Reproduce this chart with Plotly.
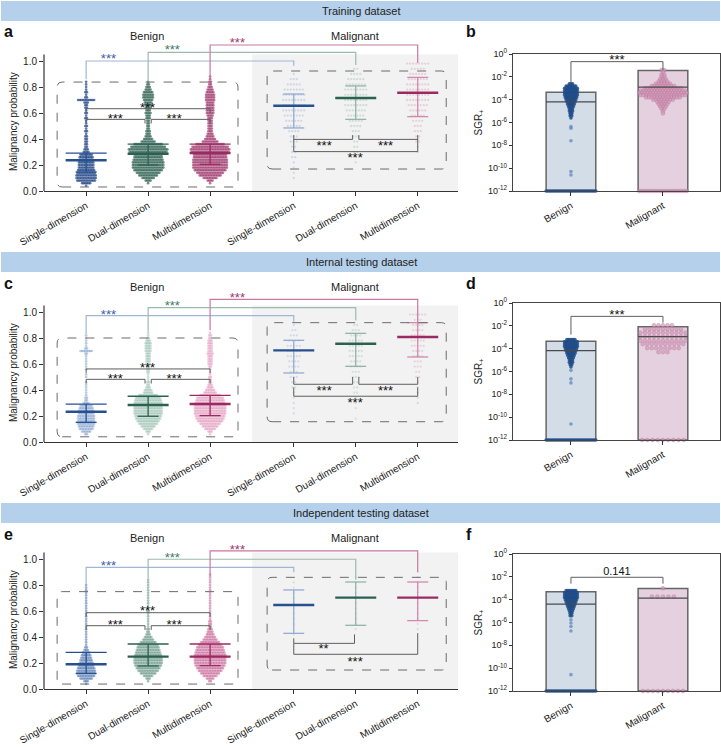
import plotly.graph_objects as go

# ===================== DATA =====================
ROW_TITLES = ["Training dataset", "Internal testing dataset", "Independent testing dataset"]
LEFT_LETTERS = ["a", "c", "e"]
RIGHT_LETTERS = ["b", "d", "f"]
GROUP_LABELS = ["Single-dimension", "Dual-dimension", "Multidimension"]
CLASS_LABELS = ["Benign", "Malignant"]
PROB_TICKS = [0.0, 0.2, 0.4, 0.6, 0.8, 1.0]
SGR_TICK_EXP = [0, -2, -4, -6, -8, -10, -12]

# probability rows of the benign swarms (value, number of dots in the row)
BINS_B = [0.04, 0.06, 0.08, 0.10, 0.12, 0.14, 0.16, 0.18, 0.20, 0.22,
          0.24, 0.26, 0.28, 0.30, 0.32, 0.34, 0.36, 0.38, 0.40, 0.42,
          0.44, 0.46, 0.48, 0.50, 0.52, 0.54, 0.56, 0.58, 0.60, 0.62,
          0.64, 0.66, 0.68, 0.70, 0.72, 0.74, 0.76, 0.78, 0.80, 0.82,
          0.84, 0.86, 0.88, 0.90]

A_BEN_SINGLE = [1, 6, 12, 13, 13, 12, 11, 10, 10, 10,
                9, 9, 8, 4, 3, 2, 2, 2, 2, 2,
                1, 2, 1, 2, 1, 1, 2, 1, 2, 1,
                2, 2, 3, 11, 2, 1, 2, 1, 1, 1,
                1, 0, 0, 0]
A_BEN_DUAL = [0, 1, 4, 8, 12, 15, 18, 20, 20, 20,
              19, 18, 18, 24, 25, 22, 18, 9, 6, 4,
              3, 3, 2, 2, 2, 2, 3, 3, 4, 3,
              4, 4, 5, 6, 7, 7, 6, 4, 3, 2,
              1, 0, 0, 0]
A_BEN_MULTI = [0, 1, 4, 9, 14, 17, 20, 22, 22, 22,
               22, 21, 21, 24, 25, 23, 18, 10, 7, 5,
               4, 3, 3, 3, 3, 3, 3, 4, 5, 5,
               5, 5, 5, 6, 6, 6, 5, 4, 3, 2,
               2, 1, 1, 0]
C_BEN_SINGLE = [0, 2, 6, 9, 10, 11, 11, 11, 11, 10,
                10, 9, 8, 4, 2, 2, 1, 1, 1, 1,
                1, 1, 0, 1, 1, 0, 1, 1, 1, 1,
                1, 1, 2, 8, 2, 1, 1, 1, 1, 1,
                0, 0, 0, 0]
C_BEN_DUAL = [0, 1, 3, 6, 9, 12, 14, 16, 17, 18,
              18, 18, 18, 18, 17, 16, 12, 6, 5, 3,
              2, 2, 1, 1, 1, 2, 2, 2, 3, 3,
              3, 3, 3, 4, 4, 4, 4, 3, 2, 1,
              1, 0, 0, 0]
C_BEN_MULTI = [0, 1, 3, 7, 10, 13, 16, 18, 19, 20,
               20, 20, 20, 19, 18, 17, 13, 8, 6, 4,
               3, 2, 2, 2, 1, 1, 1, 2, 3, 3,
               3, 3, 4, 3, 3, 3, 3, 3, 2, 2,
               1, 0, 0, 0]
E_BEN_SINGLE = [1, 3, 8, 11, 12, 12, 11, 10, 9, 8,
                7, 6, 5, 3, 2, 1, 1, 1, 1, 1,
                1, 1, 1, 1, 1, 1, 1, 1, 1, 1,
                1, 1, 1, 1, 1, 1, 1, 1, 1, 0,
                0, 0, 0, 0]
E_BEN_DUAL = [0, 1, 3, 6, 10, 13, 15, 17, 18, 18,
              18, 17, 16, 15, 14, 13, 10, 7, 5, 3,
              2, 2, 1, 1, 1, 1, 1, 1, 2, 1,
              1, 1, 1, 1, 1, 1, 1, 1, 1, 1,
              1, 0, 0, 0]
E_BEN_MULTI = [0, 2, 5, 9, 12, 15, 17, 19, 20, 20,
               20, 20, 19, 18, 17, 15, 12, 9, 7, 5,
               4, 3, 2, 2, 2, 1, 1, 1, 1, 1,
               1, 1, 1, 1, 1, 1, 1, 1, 1, 1,
               1, 1, 1, 0]

BINS_M = [0.10, 0.14, 0.18, 0.22, 0.26, 0.30, 0.34, 0.38, 0.42, 0.46, 0.50, 0.54,
          0.58, 0.62, 0.66, 0.70, 0.74, 0.78, 0.82, 0.86, 0.90, 0.94, 0.98]
A_MAL_SINGLE = [1, 1, 1, 1, 2, 2, 2, 3, 3, 4, 5, 6, 7, 8, 8, 8, 8, 7, 5, 3, 1, 0, 0]
A_MAL_DUAL = [0, 0, 0, 1, 1, 2, 2, 2, 3, 3, 4, 5, 6, 7, 8, 8, 8, 8, 7, 6, 4, 2, 0]
A_MAL_MULTI = [0, 0, 0, 0, 0, 1, 1, 2, 2, 3, 3, 4, 5, 6, 7, 8, 8, 8, 8, 7, 6, 5, 8]
C_MAL_SINGLE = [0, 0, 0, 1, 1, 1, 1, 1, 2, 2, 3, 3, 4, 4, 5, 5, 5, 4, 3, 2, 1, 0, 0]
C_MAL_DUAL = [0, 0, 1, 0, 1, 1, 1, 2, 2, 2, 3, 3, 4, 4, 5, 5, 5, 5, 4, 3, 2, 1, 0]
C_MAL_MULTI = [0, 0, 0, 0, 0, 1, 1, 1, 1, 1, 2, 2, 3, 3, 4, 4, 5, 5, 5, 4, 4, 3, 6]
E_MAL_SINGLE = [0, 0, 0, 0, 0, 0, 0, 0, 1, 0, 1, 1, 1, 1, 1, 1, 1, 1, 1, 0, 0, 0, 0]
E_MAL_DUAL = [0, 0, 0, 0, 0, 0, 0, 0, 0, 1, 1, 1, 1, 1, 1, 1, 1, 1, 1, 1, 0, 0, 0]
E_MAL_MULTI = [0, 0, 0, 0, 0, 0, 0, 0, 0, 1, 1, 1, 1, 1, 1, 1, 1, 1, 1, 1, 1, 0, 0]

# medians and error-bar ends  [single, dual, multi]
A_BEN_MED, A_BEN_UP, A_BEN_LO = [0.236, 0.287, 0.292], [0.292, 0.360, 0.360], [0.146, 0.200, 0.205]
A_MAL_MED, A_MAL_UP, A_MAL_LO = [0.656, 0.715, 0.756], [0.746, 0.808, 0.874], [0.485, 0.551, 0.572]
C_BEN_MED, C_BEN_UP, C_BEN_LO = [0.233, 0.285, 0.292], [0.292, 0.352, 0.359], [0.151, 0.198, 0.203]
C_MAL_MED, C_MAL_UP, C_MAL_LO = [0.705, 0.756, 0.808], [0.782, 0.836, 0.918], [0.531, 0.582, 0.654]
E_BEN_MED, E_BEN_UP, E_BEN_LO = [0.190, 0.249, 0.249], [0.282, 0.346, 0.346], [0.120, 0.177, 0.180]
E_MAL_MED, E_MAL_UP, E_MAL_LO = [0.646, 0.703, 0.703], [0.762, 0.823, 0.823], [0.428, 0.490, 0.526]

# SGR+ panels (log10 values of the dots)
B_BEN_LOG = [-2.6, -2.8, -3.0, -3.2, -3.4, -3.6, -3.8, -4.0, -4.2, -4.4, -4.6, -4.8, -5.0, -5.2, -5.4, -5.6]
B_BEN_N = [3, 7, 9, 9, 9, 9, 8, 7, 6, 5, 4, 3, 3, 2, 2, 1]
B_BEN_OUT = [-6.35, -6.5, -7.6, -10.3, -10.6]
B_MAL_LOG = [-1.4, -1.6, -1.8, -2.0, -2.2, -2.4, -2.6, -2.8, -3.0, -3.2, -3.4, -3.6, -3.8, -4.0,
             -4.2, -4.4, -4.6, -4.8, -5.0, -5.2]
B_MAL_N = [2, 1, 2, 2, 3, 4, 6, 9, 14, 17, 18, 17, 13, 8, 5, 4, 3, 2, 1, 1]
D_BEN_LOG = [-3.2, -3.4, -3.6, -3.8, -4.0, -4.2, -4.4, -4.6, -4.8, -5.0, -5.2, -5.4, -5.6]
D_BEN_N = [6, 9, 9, 9, 8, 7, 6, 5, 4, 3, 3, 2, 1]
D_BEN_OUT = [-5.9, -6.65, -7.0, -10.6]
D_MAL_LOG = [-1.95, -2.3, -2.6, -2.95, -3.3, -3.6, -3.95, -4.3]
D_MAL_N = [5, 9, 11, 11, 11, 10, 8, 3]
F_BEN_LOG = [-3.2, -3.4, -3.6, -3.8, -4.0, -4.2, -4.4, -4.6, -4.8, -5.0, -5.2, -5.4]
F_BEN_N = [7, 9, 9, 9, 8, 7, 6, 5, 4, 3, 2, 2]
F_BEN_OUT = [-5.76, -6.05, -6.35, -6.75, -10.57]
F_MAL_LOG = [-3.0, -3.73]
F_MAL_N = [1, 5]
FLOOR_LOG = -12
BEN_FLOOR_N = [32, 32, 32]
MAL_FLOOR_N = [18, 9, 9]

SGR_TOP = [[4.5e-4, 3.5e-2], [4.5e-4, 8.5e-3], [5.0e-4, 9.3e-4]]
SGR_MEDIAN = [[6.3e-5, 1.26e-3], [6.8e-5, 1.15e-3], [4.0e-5, 1.35e-4]]
SGR_P = ["***", "***", "0.141"]

# ===================== STYLE / LAYOUT =====================
W, H = 721, 747
FONT = "Liberation Sans, Arial, Helvetica, sans-serif"
GROUP_POS = [0, 1, 2, 3.35, 4.35, 5.35]
LEFT_X_PX = (44, 458)
LEFT_XR = [-0.68, 6.0]
PXU_L = (LEFT_X_PX[1] - LEFT_X_PX[0]) / (LEFT_XR[1] - LEFT_XR[0])
ZERO_PX = [191, 442, 689]
PXP = 130.0
YMAX_L = 1.2
AX_TOP = 1.05
RIGHT_X_PX = (513, 720)
RIGHT_XR = [-0.63, 1.62]
PXU_R = (RIGHT_X_PX[1] - RIGHT_X_PX[0]) / (RIGHT_XR[1] - RIGHT_XR[0])
RIGHT_Y_PX = [(54, 191), (303, 440), (554, 691)]
BAND_PX = [(1, 21), (252, 272), (503, 523)]

DARK = ["#27508f", "#2b6150", "#9c2a62"]
LIGHT = ["#93abd0", "#93b4a7", "#d08aad"]
BEN_DOT = [["#1f4585", "#2f6151", "#a03a6e"],
           ["#6a8fc6", "#86b3a2", "#dc86b0"],
           ["#4670ad", "#5c907e", "#c45d92"]]
BEN_OP = [0.7, 0.45, 0.55]
MAL_DOT = ["#a4b8d6", "#a4c2b6", "#d8a6bf"]
MAL_OP = [0.45, 0.4, 0.35]
BR_LINE = ["#a0b6d6", "#9dbaae", "#c8789f"]
BR_STAR = ["#3d62a0", "#3f7a66", "#a23767"]
GREY = "#5e5e5e"

COLORED_BR = [
    [(0, 3.35, 1.000, 0.86, 0.964, 0.36, 1.033), (1, 4.35, 1.067, 0.84, 0.97, 1.39, 1.10),
     (2, 5.35, 1.123, 0.88, 0.985, 2.44, 1.155)],
    [(0, 3.35, 0.972, 0.83, 0.925, 0.36, 0.998), (1, 4.35, 1.033, 0.85, 0.94, 1.39, 1.06),
     (2, 5.35, 1.097, 0.86, 0.92, 2.44, 1.125)],
    [(0, 3.35, 0.936, 0.80, 0.898, 0.36, 0.967), (1, 4.35, 0.998, 0.85, 0.84, 1.39, 1.028),
     (2, 5.35, 1.062, 0.87, 0.90, 2.44, 1.09)],
]
BEN_BR = [
    [(0, 0.95, 0.551, 0.52, 0.52, "***", 0.47, 0.575), (1.05, 2, 0.551, 0.52, 0.52, "***", 1.42, 0.575),
     (0, 2, 0.633, 0.60, 0.60, "***", 0.99, 0.657)],
    [(0, 0.95, 0.482, 0.45, 0.45, "***", 0.47, 0.503), (1.05, 2, 0.482, 0.45, 0.45, "***", 1.42, 0.503),
     (0, 2, 0.562, 0.53, 0.53, "***", 0.99, 0.585)],
    [(0, 0.95, 0.487, 0.455, 0.455, "***", 0.47, 0.513), (1.05, 2, 0.487, 0.455, 0.455, "***", 1.42, 0.513),
     (0, 2, 0.587, 0.555, 0.555, "***", 0.99, 0.615)],
]
MAL_BR = [
    [(3.35, 4.30, 0.397, 0.43, 0.43, "***", 3.84, 0.367), (4.40, 5.35, 0.397, 0.43, 0.43, "***", 4.83, 0.367),
     (3.35, 5.35, 0.303, 0.40, 0.40, "***", 4.34, 0.272)],
    [(3.35, 4.30, 0.444, 0.50, 0.50, "***", 3.84, 0.413), (4.40, 5.35, 0.444, 0.50, 0.50, "***", 4.83, 0.413),
     (3.35, 5.35, 0.352, 0.42, 0.42, "***", 4.34, 0.318)],
    [(3.35, 4.33, 0.351, 0.39, 0.42, "**", 3.83, 0.326),
     (3.35, 5.35, 0.267, 0.351, 0.43, "***", 4.34, 0.228)],
]
RIGHT_BR = [(-0.67, -2.56, -1.40, -0.35), (-1.17, -2.77, -1.72, -0.85), (-2.04, -2.60, -2.60, -1.60)]
BEN_BOX = [(-0.468, 2.45, 0.031, 0.838), (-0.468, 2.45, 0.040, 0.800), (-0.468, 2.45, 0.038, 0.749)]
MAL_BOX = [(2.92, 5.81, 0.169, 0.923), (2.92, 5.81, 0.156, 0.918), (2.92, 5.81, 0.146, 0.859)]
GREY_X0 = 2.68

ROWS = [
    dict(ben=[A_BEN_SINGLE, A_BEN_DUAL, A_BEN_MULTI], mal=[A_MAL_SINGLE, A_MAL_DUAL, A_MAL_MULTI],
         bmed=A_BEN_MED, bup=A_BEN_UP, blo=A_BEN_LO, mmed=A_MAL_MED, mup=A_MAL_UP, mlo=A_MAL_LO,
         sb=(B_BEN_LOG, B_BEN_N, B_BEN_OUT), sm=(B_MAL_LOG, B_MAL_N), msp=2.8, mfsp=2.8),
    dict(ben=[C_BEN_SINGLE, C_BEN_DUAL, C_BEN_MULTI], mal=[C_MAL_SINGLE, C_MAL_DUAL, C_MAL_MULTI],
         bmed=C_BEN_MED, bup=C_BEN_UP, blo=C_BEN_LO, mmed=C_MAL_MED, mup=C_MAL_UP, mlo=C_MAL_LO,
         sb=(D_BEN_LOG, D_BEN_N, D_BEN_OUT), sm=(D_MAL_LOG, D_MAL_N), msp=4.5, mfsp=5.2),
    dict(ben=[E_BEN_SINGLE, E_BEN_DUAL, E_BEN_MULTI], mal=[E_MAL_SINGLE, E_MAL_DUAL, E_MAL_MULTI],
         bmed=E_BEN_MED, bup=E_BEN_UP, blo=E_BEN_LO, mmed=E_MAL_MED, mup=E_MAL_UP, mlo=E_MAL_LO,
         sb=(F_BEN_LOG, F_BEN_N, F_BEN_OUT), sm=(F_MAL_LOG, F_MAL_N), msp=5.5, mfsp=5.0),
]


def nm(letter, n):
    return letter if n == 1 else f"{letter}{n}"


def swarm(center, values, counts, spacing):
    xs, ys = [], []
    for v, n in zip(values, counts):
        for i in range(n):
            xs.append(center + (i - (n - 1) / 2.0) * spacing)
            ys.append(v)
    return xs, ys


def segs_trace(xa, ya, segs, color, width):
    xs, ys = [], []
    for s in segs:
        for (px, py) in s:
            xs.append(px)
            ys.append(py)
        xs.append(None)
        ys.append(None)
    return go.Scatter(x=xs, y=ys, mode="lines", line=dict(color=color, width=width),
                      xaxis=xa, yaxis=ya, hoverinfo="skip", showlegend=False)


def text_trace(xa, ya, xs, ys, texts, color, size):
    return go.Scatter(x=xs, y=ys, mode="text", text=texts, textposition="middle center",
                      textfont=dict(color=color, size=size, family=FONT), cliponaxis=False,
                      xaxis=xa, yaxis=ya, hoverinfo="skip", showlegend=False)


def note(x_px, y_px, text, size, color="#222", angle=0, xanchor="center"):
    return dict(xref="paper", yref="paper", x=x_px / W, y=1 - y_px / H, text=text, showarrow=False,
                xanchor=xanchor, yanchor="middle", textangle=angle,
                font=dict(size=size, color=color, family=FONT))


fig = go.Figure()
shapes, annotations, lay = [], [], {}
STAR_DY_L = -3.0 / PXP
TICKFONT = dict(size=10, color="#222", family=FONT)

for r in range(3):
    nl, nr = 2 * r + 1, 2 * r + 2
    xl, yl, xr, yr = nm("x", nl), nm("y", nl), nm("x", nr), nm("y", nr)
    R = ROWS[r]
    z = ZERO_PX[r]

    # ---- axes ----
    lay["xaxis" if nl == 1 else f"xaxis{nl}"] = dict(
        domain=[LEFT_X_PX[0] / W, LEFT_X_PX[1] / W], range=LEFT_XR, anchor=yl, automargin=False,
        tickvals=GROUP_POS, ticktext=GROUP_LABELS + GROUP_LABELS, tickangle=-30,
        ticks="outside", ticklen=4, tickcolor="#333", showline=True, linecolor="#333", linewidth=1.2,
        showgrid=False, zeroline=False, tickfont=TICKFONT, fixedrange=True)
    lay["yaxis" if nl == 1 else f"yaxis{nl}"] = dict(
        domain=[1 - z / H, 1 - (z - YMAX_L * PXP) / H], range=[0, YMAX_L], anchor=xl, automargin=False,
        tickvals=PROB_TICKS, ticktext=[f"{v:.1f}" for v in PROB_TICKS], ticks="outside", ticklen=4,
        tickcolor="#333", showline=False, showgrid=False, zeroline=False, tickfont=TICKFONT, fixedrange=True)
    ry0, ry1 = RIGHT_Y_PX[r]
    lay[f"xaxis{nr}"] = dict(
        domain=[RIGHT_X_PX[0] / W, RIGHT_X_PX[1] / W], range=RIGHT_XR, anchor=yr, automargin=False,
        tickvals=[0, 1], ticktext=CLASS_LABELS, tickangle=-30, ticks="outside", ticklen=4,
        tickcolor="#333", showline=True, mirror=True, linecolor="#444", linewidth=1.2,
        showgrid=False, zeroline=False, tickfont=TICKFONT, fixedrange=True)
    lay[f"yaxis{nr}"] = dict(
        domain=[1 - ry1 / H, 1 - ry0 / H], type="log", range=[-12, 0], anchor=xr, automargin=False,
        tickvals=[10.0 ** e for e in SGR_TICK_EXP],
        ticktext=[f"10<sup>{e}</sup>" for e in SGR_TICK_EXP], ticks="outside", ticklen=3,
        tickcolor="#333", showline=True, mirror=True, linecolor="#444", linewidth=1.2,
        showgrid=False, zeroline=False, tickfont=dict(size=9, color="#222", family=FONT), fixedrange=True)

    # ---- background / boxes ----
    shapes.append(dict(type="rect", xref=xl, yref=yl, x0=GREY_X0, x1=LEFT_XR[1], y0=0, y1=AX_TOP,
                       fillcolor="#f2f2f2", line=dict(width=0), layer="below"))
    shapes.append(dict(type="line", xref=f"{xl} domain", yref=yl, x0=0, x1=0, y0=0, y1=AX_TOP,
                       line=dict(color="#333", width=1.2)))
    for (bx0, bx1, by0, by1) in (BEN_BOX[r], MAL_BOX[r]):
        rx, ryy = 5 / PXU_L, 5 / PXP
        path = (f"M {bx0 + rx},{by0} L {bx1 - rx},{by0} Q {bx1},{by0} {bx1},{by0 + ryy} "
                f"L {bx1},{by1 - ryy} Q {bx1},{by1} {bx1 - rx},{by1} L {bx0 + rx},{by1} "
                f"Q {bx0},{by1} {bx0},{by1 - ryy} L {bx0},{by0 + ryy} Q {bx0},{by0} {bx0 + rx},{by0} Z")
        shapes.append(dict(type="path", xref=xl, yref=yl, path=path,
                           line=dict(color="#6b6b6b", width=1, dash="dash"), layer="above"))

    # ---- swarms ----
    for g in range(3):
        xs, ys = swarm(GROUP_POS[g], BINS_B, R["ben"][g], 1.6 / PXU_L)
        fig.add_trace(go.Scatter(x=xs, y=ys, mode="markers", xaxis=xl, yaxis=yl, cliponaxis=False,
                                 marker=dict(size=2.7, color=BEN_DOT[r][g], opacity=BEN_OP[r], line=dict(width=0)),
                                 hoverinfo="skip", showlegend=False))
        xs, ys = swarm(GROUP_POS[g + 3], BINS_M, R["mal"][g], 3.0 / PXU_L)
        fig.add_trace(go.Scatter(x=xs, y=ys, mode="markers", xaxis=xl, yaxis=yl, cliponaxis=False,
                                 marker=dict(size=2.3, color=MAL_DOT[g], opacity=MAL_OP[r], line=dict(width=0)),
                                 hoverinfo="skip", showlegend=False))

    # ---- medians and error bars ----
    wm, wc = 20.5 / PXU_L, 10.5 / PXU_L
    for g in range(3):
        c = GROUP_POS[g]
        fig.add_trace(segs_trace(xl, yl, [[(c, R["blo"][g]), (c, R["bup"][g])],
                                          [(c - wc, R["blo"][g]), (c + wc, R["blo"][g])],
                                          [(c - wm, R["bup"][g]), (c + wm, R["bup"][g])]], DARK[g], 1.3))
        fig.add_trace(segs_trace(xl, yl, [[(c - wm, R["bmed"][g]), (c + wm, R["bmed"][g])]], DARK[g], 2.4))
        c = GROUP_POS[g + 3]
        fig.add_trace(segs_trace(xl, yl, [[(c, R["mlo"][g]), (c, R["mup"][g])],
                                          [(c - wc, R["mlo"][g]), (c + wc, R["mlo"][g])],
                                          [(c - wc, R["mup"][g]), (c + wc, R["mup"][g])]], LIGHT[g], 1.3))
        fig.add_trace(segs_trace(xl, yl, [[(c - wm, R["mmed"][g]), (c + wm, R["mmed"][g])]], DARK[g], 2.4))

    # ---- brackets ----
    for g, (x0, x1, yy, l0, l1, sx, sy) in enumerate(COLORED_BR[r]):
        fig.add_trace(segs_trace(xl, yl, [[(x0, l0), (x0, yy), (x1, yy), (x1, l1)]], BR_LINE[g], 1.2))
        fig.add_trace(text_trace(xl, yl, [sx], [sy + STAR_DY_L], ["***"], BR_STAR[g], 13))
    for (x0, x1, yy, l0, l1, t, sx, sy) in BEN_BR[r] + MAL_BR[r]:
        fig.add_trace(segs_trace(xl, yl, [[(x0, l0), (x0, yy), (x1, yy), (x1, l1)]], GREY, 1.0))
        fig.add_trace(text_trace(xl, yl, [sx], [sy + STAR_DY_L], [t], "#111", 13))

    # ---- SGR panel ----
    fig.add_trace(go.Bar(x=[0, 1], y=SGR_TOP[r], base=10.0 ** FLOOR_LOG, width=0.54, xaxis=xr, yaxis=yr,
                         marker=dict(color=["#d3dde8", "#e4d0de"], line=dict(color="#666", width=1.5)),
                         hoverinfo="skip", showlegend=False))
    blog, bn, bout = R["sb"]
    xs, ys = swarm(0, blog, bn, 1.6 / PXU_R)
    fxs, fys = swarm(0, [FLOOR_LOG], [BEN_FLOOR_N[r]], 1.6 / PXU_R)
    fig.add_trace(go.Scatter(x=xs + fxs, y=[10.0 ** v for v in ys + fys], mode="markers", xaxis=xr, yaxis=yr,
                             cliponaxis=False, marker=dict(size=3.6, color="#1f4b87", opacity=0.85, line=dict(width=0)),
                             hoverinfo="skip", showlegend=False))
    fig.add_trace(go.Scatter(x=[0] * len(bout), y=[10.0 ** v for v in bout], mode="markers", xaxis=xr, yaxis=yr,
                             cliponaxis=False, marker=dict(size=3.6, color="#5f86bb", opacity=0.75, line=dict(width=0)),
                             hoverinfo="skip", showlegend=False))
    mlog, mn = R["sm"]
    xs, ys = swarm(1, mlog, mn, R["msp"] / PXU_R)
    fxs, fys = swarm(1, [FLOOR_LOG], [MAL_FLOOR_N[r]], R["mfsp"] / PXU_R)
    fig.add_trace(go.Scatter(x=xs + fxs, y=[10.0 ** v for v in ys + fys], mode="markers", xaxis=xr, yaxis=yr,
                             cliponaxis=False,
                             marker=dict(size=3.8, color="#d09ab8", opacity=0.7, line=dict(color="#b86b95", width=0.5)),
                             hoverinfo="skip", showlegend=False))
    hw = 0.27
    fig.add_trace(segs_trace(xr, yr, [[(k - hw, SGR_MEDIAN[r][k]), (k + hw, SGR_MEDIAN[r][k])] for k in range(2)],
                             "#4a4a4a", 1.2))
    top_e, l0e, l1e, te = RIGHT_BR[r]
    fig.add_trace(segs_trace(xr, yr, [[(0, 10 ** l0e), (0, 10 ** top_e), (1, 10 ** top_e), (1, 10 ** l1e)]],
                             GREY, 1.0))
    dy = -3.0 / 11.4 if SGR_P[r].startswith("*") else 0.0
    fig.add_trace(text_trace(xr, yr, [0.5], [10 ** (te + dy)], [SGR_P[r]], "#111",
                             13 if SGR_P[r].startswith("*") else 11))

    # ---- band, letters, headings, axis titles ----
    b0, b1 = BAND_PX[r]
    shapes.append(dict(type="rect", xref="paper", yref="paper", x0=1 / W, x1=720 / W,
                       y0=1 - b1 / H, y1=1 - b0 / H, fillcolor="#b4d0ea", line=dict(width=0), layer="below"))
    annotations.append(note(361, (b0 + b1) / 2, ROW_TITLES[r], 11))
    annotations.append(note(2, b1 + 11, f"<b>{LEFT_LETTERS[r]}</b>", 16, "#111", xanchor="left"))
    annotations.append(note(464, b1 + 11, f"<b>{RIGHT_LETTERS[r]}</b>", 16, "#111", xanchor="left"))
    annotations.append(note(147, b1 + 15, "Benign", 11))
    annotations.append(note(355, b1 + 15, "Malignant", 11))
    annotations.append(note(13, z - 0.53 * PXP, "Malignancy probability", 10, angle=-90))
    annotations.append(note(478, (ry0 + ry1) / 2, "SGR<sub>+</sub>", 10, angle=-90))

fig.update_layout(template="none", width=W, height=H, margin=dict(l=0, r=0, t=0, b=0, pad=0),
                  paper_bgcolor="white", plot_bgcolor="rgba(0,0,0,0)", shapes=shapes,
                  annotations=annotations, font=dict(family=FONT), barmode="overlay",
                  showlegend=False, hovermode=False, **lay)
fig.write_html("out.html", config={"displayModeBar": False, "staticPlot": True},
               post_script="document.body.style.margin='0';document.body.style.padding='0';"
                           "document.documentElement.style.overflow='hidden';")
